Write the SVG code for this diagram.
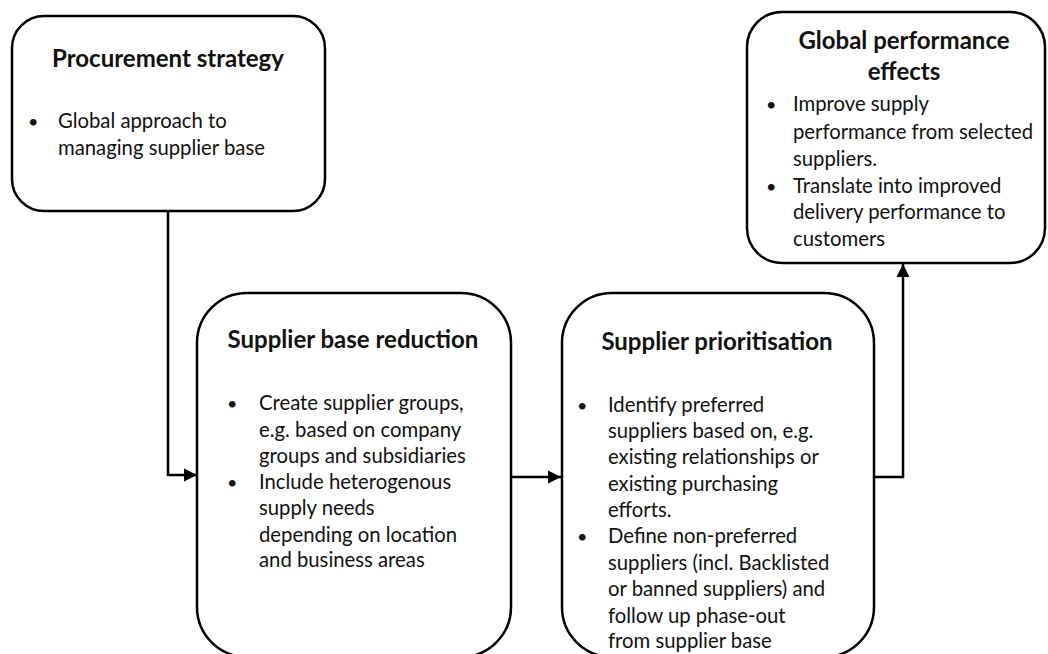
<svg xmlns="http://www.w3.org/2000/svg" width="1048" height="654" viewBox="0 0 1048 654">
  <style>
    .box { fill: #ffffff; stroke: #000000; stroke-width: 2.5; }
    .title { font-family: Lato, "Liberation Sans", sans-serif; font-weight: bold; font-size: 24px; fill: #111111; text-anchor: middle; }
    .body { font-family: Lato, "Liberation Sans", sans-serif; font-size: 20.3px; fill: #111111; }
    .dot { font-family: Lato, "Liberation Sans", sans-serif; font-size: 18px; fill: #111111; }
    .wire { fill: none; stroke: #000000; stroke-width: 2.5; }
  </style>
  <defs>
    <marker id="arrow" markerUnits="userSpaceOnUse" markerWidth="14" markerHeight="14" viewBox="0 0 14 14" refX="13" refY="7" orient="auto">
      <path d="M0,0.5 L13,7 L0,13.5 Z" fill="#000000"/>
    </marker>
  </defs>
  <rect width="1048" height="654" fill="#ffffff"/>

  <g id="connectors">
    <path class="wire" d="M168 211 V475 H197" marker-end="url(#arrow)"/>
    <path class="wire" d="M511 477 H561" marker-end="url(#arrow)"/>
    <path class="wire" d="M874 477 H903 V264" marker-end="url(#arrow)"/>
  </g>

  <g id="procurement-strategy">
    <rect class="box" x="12" y="16" width="313" height="195" rx="32" ry="32"/>
    <text class="title" x="168" y="67">Procurement strategy</text>
    <text class="dot" x="28" y="128">•</text>
    <text class="body" x="58" y="128">Global approach to</text>
    <text class="body" x="58" y="155">managing supplier base</text>
  </g>

  <g id="supplier-base-reduction">
    <rect class="box" x="197" y="293" width="314" height="364" rx="50" ry="50"/>
    <text class="title" x="353" y="348">Supplier base reduction</text>
    <text class="dot" x="227" y="410">•</text>
    <text class="body" x="259" y="410">Create supplier groups,</text>
    <text class="body" x="259" y="437">e.g. based on company</text>
    <text class="body" x="259" y="463">groups and subsidiaries</text>
    <text class="dot" x="227" y="489">•</text>
    <text class="body" x="259" y="489">Include heterogenous</text>
    <text class="body" x="259" y="515">supply needs</text>
    <text class="body" x="259" y="542">depending on location</text>
    <text class="body" x="259" y="567">and business areas</text>
  </g>

  <g id="supplier-prioritisation">
    <rect class="box" x="562" y="293" width="312" height="364" rx="50" ry="50"/>
    <text class="title" x="717" y="350">Supplier prioritisation</text>
    <text class="dot" x="577" y="412">•</text>
    <text class="body" x="608" y="412">Identify preferred</text>
    <text class="body" x="608" y="438">suppliers based on, e.g.</text>
    <text class="body" x="608" y="464">existing relationships or</text>
    <text class="body" x="608" y="491">existing purchasing</text>
    <text class="body" x="608" y="517">efforts.</text>
    <text class="dot" x="577" y="543">•</text>
    <text class="body" x="608" y="543">Define non-preferred</text>
    <text class="body" x="608" y="570">suppliers (incl. Backlisted</text>
    <text class="body" x="608" y="596">or banned suppliers) and</text>
    <text class="body" x="608" y="623">follow up phase-out</text>
    <text class="body" x="608" y="648">from supplier base</text>
  </g>

  <g id="global-performance-effects">
    <rect class="box" x="747" y="12" width="298" height="251" rx="35" ry="35"/>
    <text class="title" x="904" y="49">Global performance</text>
    <text class="title" x="904" y="80">effects</text>
    <text class="dot" x="766" y="111">•</text>
    <text class="body" x="793" y="111">Improve supply</text>
    <text class="body" x="793" y="139">performance from selected</text>
    <text class="body" x="793" y="166">suppliers.</text>
    <text class="dot" x="766" y="193">•</text>
    <text class="body" x="793" y="193">Translate into improved</text>
    <text class="body" x="793" y="219">delivery performance to</text>
    <text class="body" x="793" y="246">customers</text>
  </g>
</svg>
